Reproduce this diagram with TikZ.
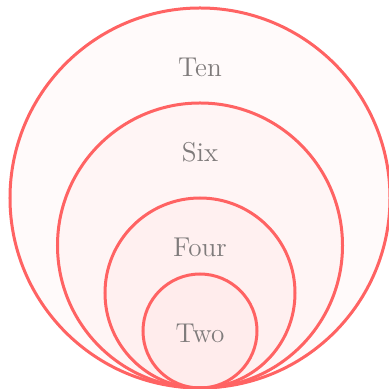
\documentclass[tikz,border=0pt]{standalone}
\usepackage{xcolor}
\usepackage{tikz}
\usetikzlibrary{positioning}

\definecolor{ringred}{HTML}{FF6363}
\definecolor{labelgray}{HTML}{7F7B7B}
\tikzset{
    ring/.style={draw=ringred, line width=1.5pt, fill=red!40, fill opacity=0.05},
    ringlabel/.style={text=labelgray, font=\fontsize{13.6}{16}\selectfont}
}

\begin{document}
\begin{tikzpicture}[x=0.5pt,y=0.5pt]
    \useasboundingbox (-200,-1) rectangle (189,388);

    % nested sets, all touching at the bottom point
    \foreach \r in {190,142.5,95,57}
        \draw[ring] (0,\r) circle[radius=\r];

    \node[ringlabel] (ten)  at (0,321) {Ten};
    \node[ringlabel] (six)  at (0,236) {Six};
    \node[ringlabel] (four) at (0,141) {Four};
    \node[ringlabel] (two)  at (0,55)  {Two};
\end{tikzpicture}
\end{document}
